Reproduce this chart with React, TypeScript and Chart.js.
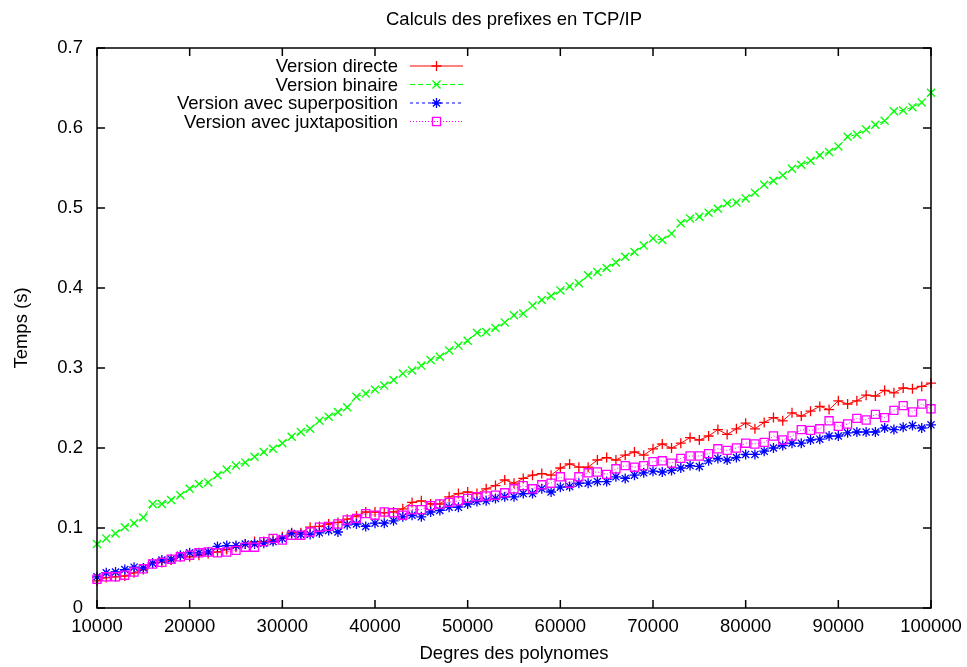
import React, { useEffect, useRef } from "react";
import { Chart, registerables } from "chart.js";

Chart.register(...registerables);

const TITLE = "Calculs des prefixes en TCP/IP";
const X_TITLE = "Degres des polynomes";
const Y_TITLE = "Temps (s)";

const degrees = [
  10000, 11000, 12000, 13000, 14000, 15000, 16000, 17000, 18000, 19000,
  20000, 21000, 22000, 23000, 24000, 25000, 26000, 27000, 28000, 29000,
  30000, 31000, 32000, 33000, 34000, 35000, 36000, 37000, 38000, 39000,
  40000, 41000, 42000, 43000, 44000, 45000, 46000, 47000, 48000, 49000,
  50000, 51000, 52000, 53000, 54000, 55000, 56000, 57000, 58000, 59000,
  60000, 61000, 62000, 63000, 64000, 65000, 66000, 67000, 68000, 69000,
  70000, 71000, 72000, 73000, 74000, 75000, 76000, 77000, 78000, 79000,
  80000, 81000, 82000, 83000, 84000, 85000, 86000, 87000, 88000, 89000,
  90000, 91000, 92000, 93000, 94000, 95000, 96000, 97000, 98000, 99000,
  100000,
];

const directe = [
  0.034, 0.038, 0.039, 0.040, 0.044, 0.048, 0.056, 0.057, 0.060, 0.064,
  0.064, 0.066, 0.068, 0.070, 0.073, 0.076, 0.080, 0.083, 0.083, 0.085,
  0.089, 0.094, 0.094, 0.101, 0.102, 0.105, 0.107, 0.111, 0.115, 0.120,
  0.120, 0.119, 0.120, 0.124, 0.132, 0.134, 0.130, 0.130, 0.139, 0.143,
  0.145, 0.143, 0.149, 0.153, 0.160, 0.156, 0.162, 0.166, 0.168, 0.166,
  0.175, 0.180, 0.176, 0.176, 0.185, 0.188, 0.185, 0.191, 0.195, 0.191,
  0.199, 0.205, 0.200, 0.206, 0.213, 0.210, 0.215, 0.223, 0.217, 0.224,
  0.231, 0.224, 0.232, 0.238, 0.234, 0.244, 0.240, 0.246, 0.252, 0.248,
  0.259, 0.255, 0.259, 0.266, 0.265, 0.272, 0.269, 0.275, 0.274, 0.277,
  0.281,
];

const binaire = [
  0.080, 0.087, 0.093, 0.101, 0.106, 0.113, 0.130, 0.130, 0.135, 0.141,
  0.149, 0.155, 0.157, 0.166, 0.173, 0.178, 0.182, 0.189, 0.195, 0.199,
  0.206, 0.214, 0.220, 0.224, 0.234, 0.239, 0.245, 0.251, 0.264, 0.268,
  0.273, 0.278, 0.285, 0.293, 0.297, 0.303, 0.310, 0.314, 0.322, 0.328,
  0.334, 0.344, 0.345, 0.350, 0.357, 0.366, 0.368, 0.378, 0.385, 0.390,
  0.397, 0.402, 0.406, 0.416, 0.420, 0.425, 0.432, 0.439, 0.445, 0.453,
  0.462, 0.460, 0.468, 0.481, 0.487, 0.489, 0.494, 0.499, 0.506, 0.507,
  0.512, 0.519, 0.529, 0.534, 0.541, 0.549, 0.554, 0.559, 0.566, 0.570,
  0.577, 0.589, 0.592, 0.598, 0.604, 0.609, 0.621, 0.622, 0.626, 0.632,
  0.644,
];

const superposition = [
  0.039, 0.044, 0.045, 0.048, 0.051, 0.050, 0.056, 0.060, 0.061, 0.066,
  0.069, 0.069, 0.070, 0.077, 0.078, 0.078, 0.080, 0.080, 0.081, 0.083,
  0.087, 0.093, 0.092, 0.092, 0.094, 0.097, 0.095, 0.104, 0.105, 0.102,
  0.106, 0.106, 0.109, 0.114, 0.116, 0.114, 0.120, 0.122, 0.126, 0.126,
  0.130, 0.133, 0.134, 0.137, 0.139, 0.139, 0.143, 0.143, 0.149, 0.145,
  0.151, 0.152, 0.156, 0.156, 0.158, 0.158, 0.164, 0.162, 0.166, 0.169,
  0.171, 0.170, 0.172, 0.175, 0.178, 0.177, 0.184, 0.187, 0.185, 0.188,
  0.192, 0.192, 0.196, 0.200, 0.203, 0.206, 0.206, 0.210, 0.211, 0.215,
  0.215, 0.219, 0.220, 0.220, 0.220, 0.225, 0.223, 0.226, 0.228, 0.225,
  0.229,
];

const juxtaposition = [
  0.036, 0.039, 0.039, 0.041, 0.045, 0.049, 0.055, 0.057, 0.061, 0.064,
  0.066, 0.069, 0.070, 0.069, 0.070, 0.072, 0.076, 0.076, 0.083, 0.087,
  0.085, 0.091, 0.091, 0.095, 0.101, 0.102, 0.105, 0.110, 0.112, 0.118,
  0.116, 0.120, 0.119, 0.116, 0.123, 0.123, 0.128, 0.130, 0.132, 0.134,
  0.137, 0.139, 0.140, 0.141, 0.144, 0.149, 0.153, 0.149, 0.154, 0.156,
  0.164, 0.156, 0.164, 0.169, 0.170, 0.167, 0.174, 0.178, 0.176, 0.178,
  0.183, 0.184, 0.181, 0.187, 0.190, 0.190, 0.193, 0.199, 0.197, 0.200,
  0.206, 0.205, 0.207, 0.215, 0.210, 0.215, 0.223, 0.222, 0.224, 0.234,
  0.227, 0.230, 0.237, 0.235, 0.242, 0.238, 0.247, 0.253, 0.245, 0.255,
  0.249,
];

const seriesLabels = [
  "Version directe",
  "Version binaire",
  "Version avec superposition",
  "Version avec juxtaposition",
];
const seriesValues = [directe, binaire, superposition, juxtaposition];
const seriesColors = ["#ff0000", "#00ff00", "#0000ff", "#ff00ff"];
const seriesDash = [[], [5, 3], [3, 3], [1, 2]];
const seriesPoint = ["cross", "crossRot", "star", "rect"];
const seriesRadius = [5, 5.7, 5, 5.7];

const FONT = '"Liberation Sans", Arial, Helvetica, sans-serif';
const FS = 18.5;

function drawMarker(ctx: CanvasRenderingContext2D, style: string, x: number, y: number, r: number) {
  ctx.beginPath();
  const d = r * Math.SQRT1_2;
  if (style === "cross" || style === "star") {
    ctx.moveTo(x - r, y);
    ctx.lineTo(x + r, y);
    ctx.moveTo(x, y - r);
    ctx.lineTo(x, y + r);
  }
  if (style === "crossRot" || style === "star") {
    ctx.moveTo(x - d, y - d);
    ctx.lineTo(x + d, y + d);
    ctx.moveTo(x - d, y + d);
    ctx.lineTo(x + d, y - d);
  }
  if (style === "rect") {
    ctx.rect(x - d, y - d, 2 * d, 2 * d);
  }
  ctx.stroke();
}

const framePlugin = {
  id: "gnuFrame",
  afterDatasetsDraw(chart: any) {
    const { ctx, chartArea } = chart;
    const { left, right, top, bottom } = chartArea;
    const xs = chart.scales.x;
    const ys = chart.scales.y;
    const tl = 8;
    ctx.save();
    ctx.strokeStyle = "#000";
    ctx.lineWidth = 1.5;
    ctx.setLineDash([]);
    ctx.strokeRect(left, top, right - left, bottom - top);
    ctx.beginPath();
    ys.ticks.forEach((t: any) => {
      const py = ys.getPixelForValue(t.value);
      ctx.moveTo(left, py);
      ctx.lineTo(left + tl, py);
      ctx.moveTo(right, py);
      ctx.lineTo(right - tl, py);
    });
    xs.ticks.forEach((t: any) => {
      const px = xs.getPixelForValue(t.value);
      ctx.moveTo(px, bottom);
      ctx.lineTo(px, bottom - tl);
      ctx.moveTo(px, top);
      ctx.lineTo(px, top + tl);
    });
    ctx.stroke();

    // gnuplot-style key
    const textRight = left + 301;
    const lineStart = left + 313;
    const lineEnd = left + 366;
    const rowTop = top + 18;
    const rowStep = 18.5;
    ctx.font = `${FS}px ${FONT}`;
    ctx.textAlign = "right";
    ctx.textBaseline = "middle";
    chart.data.datasets.forEach((ds: any, i: number) => {
      const yy = rowTop + i * rowStep;
      ctx.fillStyle = "#000";
      ctx.fillText(ds.label, textRight, yy + 1);
      ctx.strokeStyle = ds.borderColor;
      ctx.lineWidth = 1;
      ctx.setLineDash(ds.borderDash || []);
      ctx.beginPath();
      ctx.moveTo(lineStart, yy);
      ctx.lineTo(lineEnd, yy);
      ctx.stroke();
      ctx.setLineDash([]);
      ctx.lineWidth = ds.pointBorderWidth;
      drawMarker(ctx, ds.pointStyle, (lineStart + lineEnd) / 2, yy, ds.pointRadius);
    });
    ctx.restore();
  },
};

export default function App() {
  const ref = useRef<HTMLCanvasElement | null>(null);
  useEffect(() => {
    if (!ref.current) return;
    Chart.defaults.font.family = FONT;
    Chart.defaults.font.size = FS;
    Chart.defaults.color = "#000";
    const datasets = seriesLabels.map((label, i) => ({
      label,
      data: degrees.map((x, j) => ({ x, y: seriesValues[i][j] })),
      borderColor: seriesColors[i],
      backgroundColor: "rgba(0,0,0,0)",
      borderWidth: 1,
      borderDash: seriesDash[i],
      pointStyle: seriesPoint[i],
      pointRadius: seriesRadius[i],
      pointBorderWidth: 1.3,
      pointBorderColor: seriesColors[i],
      pointBackgroundColor: "rgba(0,0,0,0)",
      tension: 0,
      fill: false,
      clip: false as any,
      order: 4 - i,
    }));
    const chart = new Chart(ref.current, {
      type: "line",
      data: { datasets },
      options: {
        animation: false,
        responsive: false,
        layout: { autoPadding: false, padding: { left: 0, right: 36, top: 0, bottom: 0 } },
        plugins: {
          legend: { display: false },
          tooltip: { enabled: false },
          title: {
            display: true,
            fullSize: false,
            text: TITLE,
            color: "#000",
            font: { size: FS, weight: "normal", family: FONT },
            padding: { top: 8.4, bottom: 17.4 },
          },
        },
        scales: {
          x: {
            type: "linear",
            min: 10000,
            max: 100000,
            ticks: {
              stepSize: 10000,
              padding: 8.2,
              color: "#000",
              maxRotation: 0,
              autoSkip: false,
              callback: (v: any) => String(v),
            },
            grid: { display: false, drawTicks: false },
            border: { display: false },
            title: {
              display: true,
              text: X_TITLE,
              color: "#000",
              font: { size: FS },
              padding: { top: 0, bottom: 1.9 },
            },
            afterFit: (s: any) => {
              s.height = 59;
              s.paddingLeft = 0;
              s.paddingRight = 0;
            },
          },
          y: {
            type: "linear",
            min: 0,
            max: 0.7,
            ticks: {
              stepSize: 0.1,
              padding: 14,
              color: "#000",
              callback: (v: any) => String(Number(Number(v).toFixed(1))),
            },
            grid: { display: false, drawTicks: false },
            border: { display: false },
            title: {
              display: true,
              text: Y_TITLE,
              color: "#000",
              font: { size: FS },
              padding: { top: 10.9, bottom: 0 },
            },
            afterFit: (s: any) => {
              s.width = 97;
              s.paddingTop = 0;
              s.paddingBottom = 0;
            },
          },
        },
      },
      plugins: [framePlugin],
    });
    return () => chart.destroy();
  }, []);
  return (
    <div style={{ position: "absolute", left: 0, top: 0, width: 967, height: 667, background: "#fff" }}>
      <canvas ref={ref} width={967} height={667} style={{ width: 967, height: 667, display: "block" }} />
    </div>
  );
}
